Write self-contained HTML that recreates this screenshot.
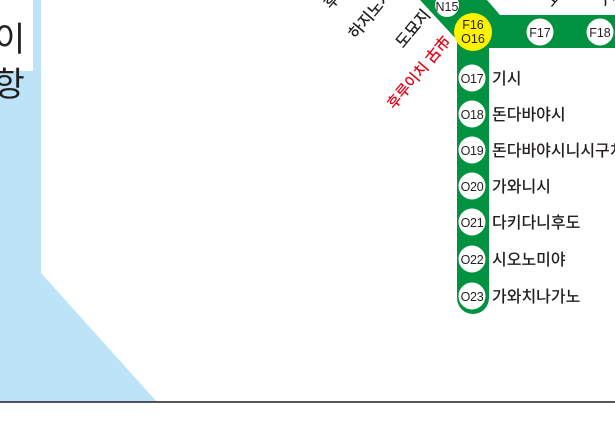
<!DOCTYPE html>
<html><head><meta charset="utf-8"><style>
html,body{margin:0;padding:0;background:#fff;}
svg{display:block;}
text{font-family:"Liberation Sans","Noto Sans CJK KR",sans-serif;}
</style></head><body>
<svg width="615" height="434" viewBox="0 0 615 434" xmlns="http://www.w3.org/2000/svg">
<rect width="615" height="434" fill="#fff"/>
<polygon points="33,0 41,0 41,273 157,402 0,402 0,71 33,71" fill="#bce3f8"/>
<text x="-6" y="51" font-size="34" fill="#231f20">이</text>
<text x="-16" y="96" font-size="34" fill="#231f20">.항</text>
<line x1="0" y1="402" x2="615" y2="402" stroke="#231f20" stroke-width="1.5"/>
<path d="M420,0 L487,0 L500,15 L615,15 L615,48 L489,48 L489,298 A16,16 0 0 1 457,298 L457,40 Z" fill="#00923f"/>
<path d="M487,0 Q492,6 498,3 L500,0 Z" fill="#fff"/>
<circle cx="447" cy="5" r="12" fill="#fff"/>
<text x="447" y="11" font-size="12.5" text-anchor="middle" fill="#231f20">N15</text>
<circle cx="473" cy="32" r="19" fill="#fff200"/>
<text x="473" y="29" font-size="12.5" text-anchor="middle" fill="#231f20">F16</text>
<text x="473" y="43" font-size="12.5" text-anchor="middle" fill="#231f20">O16</text>
<circle cx="540" cy="32" r="13.5" fill="#fff"/>
<text x="540" y="37" font-size="12.5" text-anchor="middle" fill="#231f20">F17</text>
<circle cx="600" cy="32" r="13.5" fill="#fff"/>
<text x="600" y="37" font-size="12.5" text-anchor="middle" fill="#231f20">F18</text>
<g font-weight="500">
<text transform="translate(552,8) rotate(-50)" font-size="16" fill="#231f20">고</text>
<text transform="translate(606,8) rotate(-50)" font-size="16" fill="#231f20">가</text>
<text transform="translate(403,49) rotate(-50)" font-size="16" fill="#231f20">도묘지</text>
<text transform="translate(356,40) rotate(-50)" font-size="16" fill="#231f20">하지노시</text>
<text transform="translate(331,10) rotate(-50)" font-size="16" fill="#231f20">후</text>
<text transform="translate(394,110) rotate(-50)" font-size="15" fill="#e60012">후루이치 古市</text>
</g>
<g font-size="12.5" text-anchor="middle" fill="#231f20" letter-spacing="-0.3">
<circle cx="472" cy="78" r="13.5" fill="#fff"/><text x="472" y="83">O17</text>
<circle cx="472" cy="114" r="13.5" fill="#fff"/><text x="472" y="119">O18</text>
<circle cx="472" cy="150" r="13.5" fill="#fff"/><text x="472" y="155">O19</text>
<circle cx="472" cy="186" r="13.5" fill="#fff"/><text x="472" y="191">O20</text>
<circle cx="472" cy="222" r="13.5" fill="#fff"/><text x="472" y="227">O21</text>
<circle cx="472" cy="259" r="13.5" fill="#fff"/><text x="472" y="264">O22</text>
<circle cx="472" cy="296" r="13.5" fill="#fff"/><text x="472" y="301">O23</text>
</g>
<g font-size="16" font-weight="500" fill="#231f20">
<text x="492" y="84">기시</text>
<text x="492" y="120">돈다바야시</text>
<text x="492" y="156">돈다바야시니시구치</text>
<text x="492" y="192">가와니시</text>
<text x="492" y="228">다키다니후도</text>
<text x="492" y="265">시오노미야</text>
<text x="492" y="302">가와치나가노</text>
</g>
</svg>
</body></html>
